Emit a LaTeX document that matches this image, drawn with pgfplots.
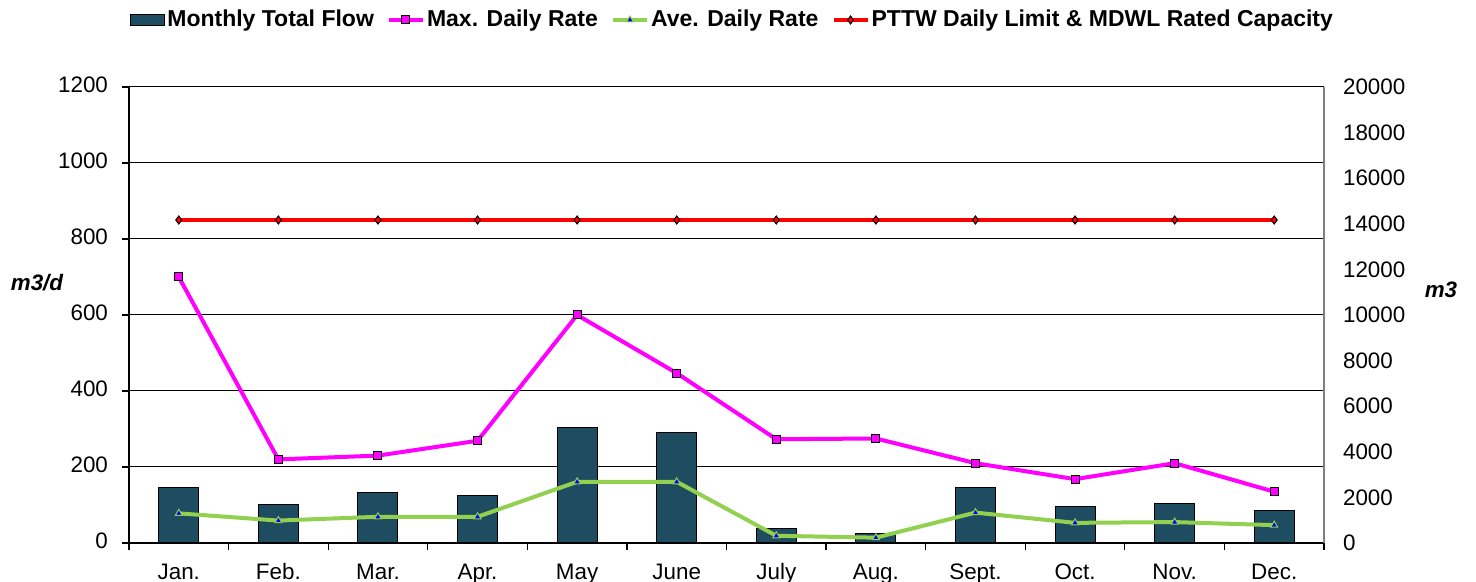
\documentclass[border=0pt]{standalone}
\usepackage{fontspec}
\setmainfont{Liberation Sans}
\usepackage{pgfplots}
\pgfplotsset{compat=1.18}
\definecolor{flowcol}{RGB}{30,76,96}
\definecolor{avecol}{RGB}{146,208,80}
\definecolor{maxcol}{RGB}{255,0,255}

\pgfplotsset{
  chartbase/.style={
    width=597.5pt, height=228pt, scale only axis,
    at={(0,0)}, anchor=south west,
    xmin=0.5, xmax=12.5,
    /pgf/number format/assume math mode=true,
    /pgf/number format/1000 sep={},
    tick label style={font=\fontsize{11.2}{13}\selectfont},
  },
}

\begin{document}
\begin{tikzpicture}
\path[use as bounding box] (-64.5pt,-19.5pt) rectangle (673.5pt,271.5pt);

% left axis: grid, ticks, month labels
\begin{axis}[chartbase,
    ymin=0, ymax=1200, ytick={0,200,...,1200},
    ymajorgrids, grid style={black, line width=0.5pt},
    axis x line*=bottom, axis y line*=left,
    axis line style={black, line width=0.6pt},
    tick align=outside, major tick length=3.5pt, minor tick length=3.5pt,
    tick style={black, line width=0.6pt},
    xtick={1,...,12},
    xticklabels={Jan.,Feb.,Mar.,Apr.,May,June,July,Aug.,Sept.,Oct.,Nov.,Dec.},
    typeset ticklabels with strut,
    minor xtick={0.5,1.5,...,12.5},
    major x tick style={draw=none},
    xticklabel style={yshift=-2pt},
    yticklabel style={xshift=-3.5pt},
  ]
  \addplot[draw=none] coordinates {(1,0)};
\end{axis}

% right axis: monthly total flow (m3)
\begin{axis}[chartbase,
    ymin=0, ymax=20000, ytick={0,2000,...,20000},
    scaled y ticks=false,
    yticklabel style={xshift=6pt},
    axis y line*=right, axis x line=none,
    axis line style={gray, line width=0.6pt},
    major tick length=0pt, xtick=\empty,
    ybar, bar width=20pt,
  ]
  \addplot[fill=flowcol, draw=black, line width=0.5pt] coordinates {
    (1,2443) (2,1667) (3,2222) (4,2105) (5,5044) (6,4839)
    (7,629) (8,409) (9,2443) (10,1608) (11,1711) (12,1447)
  };
\end{axis}

% daily rates (m3/d)
\begin{axis}[chartbase,
    ymin=0, ymax=1200, hide axis, clip=false,
    legend style={at={(0.505,1.147)}, anchor=center, draw=none, fill=none,
      legend columns=4, font=\bfseries\fontsize{11.5}{13}\selectfont,
      nodes={inner xsep=1pt},
      /tikz/every even column/.append style={column sep=5.5pt}},
    legend cell align=left,
  ]
  \addlegendimage{area legend, fill=flowcol, draw=black, line width=0.6pt}
  \addlegendentry{Monthly Total Flow}

  \addplot[maxcol, line width=2pt, mark=square*,
    mark options={fill=maxcol, draw=black, line width=0.5pt, solid}, mark size=2pt]
    coordinates {
    (1,700) (2,220) (3,230) (4,269) (5,600) (6,447)
    (7,273) (8,275) (9,210) (10,168) (11,210) (12,135)
  };
  \addlegendentry{Max. Daily Rate}

  \addplot[avecol, line width=2pt, mark=triangle*,
    mark options={fill=blue, draw=avecol, line width=0.5pt, solid}, mark size=2pt]
    coordinates {
    (1,78) (2,59) (3,69) (4,69) (5,161) (6,161)
    (7,19) (8,14) (9,80) (10,53) (11,55) (12,47)
  };
  \addlegendentry{Ave. Daily Rate}

  \addplot[red, line width=2pt, mark=diamond*,
    mark options={fill=red, draw=black, line width=0.5pt, solid}, mark size=2pt]
    coordinates {
    (1,850) (2,850) (3,850) (4,850) (5,850) (6,850)
    (7,850) (8,850) (9,850) (10,850) (11,850) (12,850)
  };
  \addlegendentry{PTTW Daily Limit \& MDWL Rated Capacity}

  \node[font=\bfseries\itshape\fontsize{11.2}{13}\selectfont] at (rel axis cs:0,0.572) [xshift=-46pt] {m3/d};
  \node[font=\bfseries\itshape\fontsize{11.2}{13}\selectfont] at (rel axis cs:1,0.555) [xshift=58.5pt] {m3};
\end{axis}
\end{tikzpicture}
\end{document}
